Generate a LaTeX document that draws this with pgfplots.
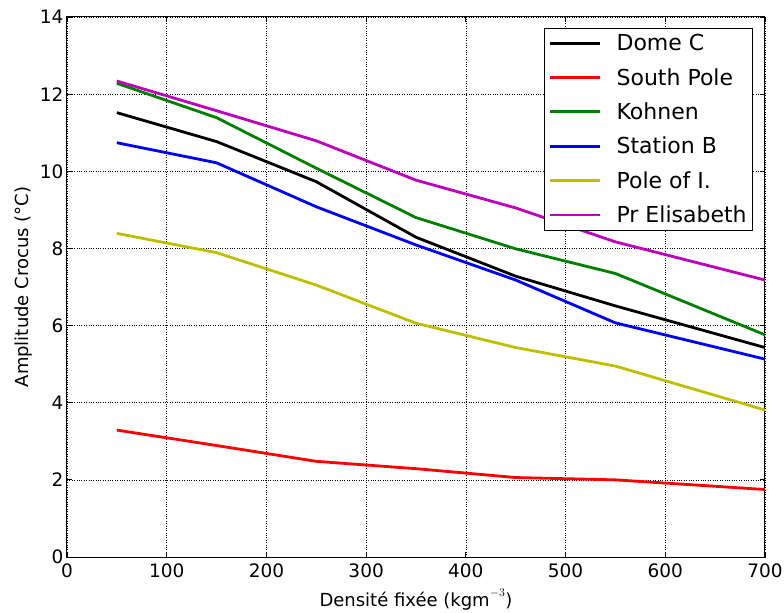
\documentclass[border=0pt]{standalone}
\usepackage{pgfplots}
\pgfplotsset{compat=1.18}
\usepackage{fontspec}
\setmainfont{DejaVu Sans}
\begin{document}
\begin{tikzpicture}
\useasboundingbox (-67bp,-56bp) rectangle (717bp,557bp);
\begin{axis}[
  at={(0,0)}, anchor=south west,
  scale only axis, width=698bp, height=540bp,
  xmin=0, xmax=700, ymin=0, ymax=14,
  xtick={0,100,...,700}, ytick={0,2,...,14},
  grid=major,
  major grid style={black, dotted, line width=0.7bp},
  axis line style={line width=1bp},
  tick style={black, line width=0.8bp},
  tick align=inside,
  major tick length=5bp,
  xtick pos=both, ytick pos=both,
  /pgf/number format/assume math mode=true,
  ticklabel style={font=\fontsize{18.5bp}{22bp}\selectfont},
  xticklabel style={yshift=-3bp},
  label style={font=\fontsize{18bp}{22bp}\selectfont},
  xlabel={Densité fixée (k$\mathrm{gm}^{-3}$)},
  ylabel={Amplitude Crocus (°C)},
  xlabel style={yshift=-4bp},
  ylabel style={yshift=1bp},
  legend style={at={(0.983,0.98)}, anchor=north east, draw=black, line width=1bp,
    font=\fontsize{22bp}{26bp}\selectfont, row sep=12.2bp,
    inner xsep=4bp, inner ysep=4bp},
  legend cell align=left,
  legend image code/.code={\path (0bp,0bp) -- (50bp,0bp); \draw[#1, line width=2.8bp] (12bp,0bp) -- (47bp,0bp);},
]
\addplot[black, line width=2.8bp] coordinates {(50,11.52) (150,10.77) (250,9.73) (350,8.29) (450,7.28) (550,6.51) (700,5.43)};
\addlegendentry{\hspace{13bp}Dome C}
\addplot[red, line width=2.8bp] coordinates {(50,3.29) (150,2.89) (250,2.48) (350,2.29) (450,2.06) (550,2.0) (700,1.75)};
\addlegendentry{\hspace{13bp}South Pole}
\addplot[color={rgb,1:red,0;green,0.5;blue,0}, line width=2.8bp] coordinates {(50,12.28) (150,11.39) (250,10.08) (350,8.80) (450,7.99) (550,7.35) (700,5.76)};
\addlegendentry{\hspace{13bp}Kohnen}
\addplot[blue, line width=2.8bp] coordinates {(50,10.74) (150,10.22) (250,9.08) (350,8.09) (450,7.18) (550,6.07) (700,5.13)};
\addlegendentry{\hspace{13bp}Station B}
\addplot[color={rgb,1:red,0.75;green,0.75;blue,0}, line width=2.8bp] coordinates {(50,8.39) (150,7.89) (250,7.05) (350,6.06) (450,5.43) (550,4.95) (700,3.81)};
\addlegendentry{\hspace{13bp}Pole of I.}
\addplot[color={rgb,1:red,0.75;green,0;blue,0.75}, line width=2.8bp] coordinates {(50,12.34) (150,11.57) (250,10.79) (350,9.77) (450,9.05) (550,8.17) (700,7.18)};
\addlegendentry{\hspace{13bp}Pr Elisabeth}
\end{axis}
\end{tikzpicture}
\end{document}
